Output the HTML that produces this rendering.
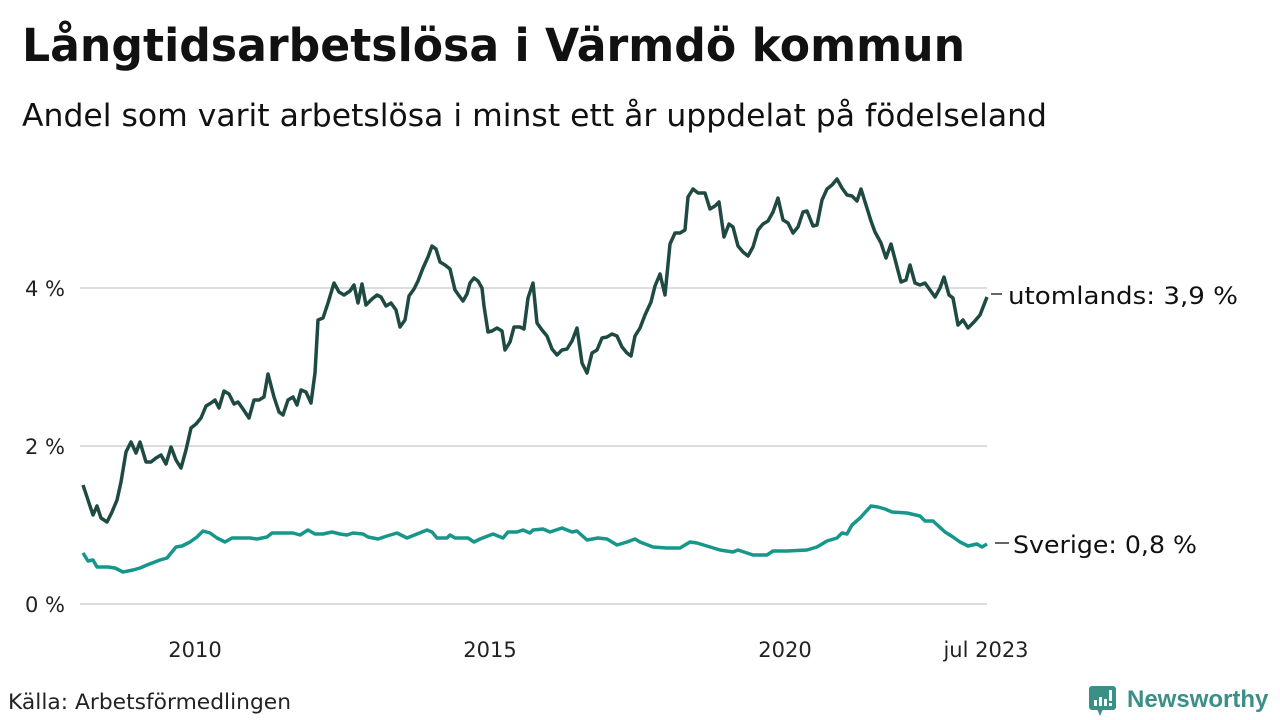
<!DOCTYPE html>
<html><head><meta charset="utf-8"><style>
body{margin:0;width:1280px;height:720px;background:#fff;overflow:hidden;font-family:"DejaVu Sans",sans-serif;color:#111}
</style></head><body>
<svg width="1280" height="720" xmlns="http://www.w3.org/2000/svg" style="position:absolute;left:0;top:0">
<text x="22" y="61" font-size="45" font-weight="bold" fill="#111" font-family="DejaVu Sans, sans-serif" textLength="943" lengthAdjust="spacingAndGlyphs">Långtidsarbetslösa i Värmdö kommun</text>
<text x="22" y="126" font-size="31" fill="#111" font-family="DejaVu Sans, sans-serif" textLength="1025" lengthAdjust="spacingAndGlyphs">Andel som varit arbetslösa i minst ett år uppdelat på födelseland</text>
<g stroke="#dddde0" stroke-width="2">
<line x1="80" y1="288" x2="987" y2="288"/><line x1="80" y1="446" x2="987" y2="446"/><line x1="80" y1="604" x2="987" y2="604"/>
</g>
<g font-size="21" fill="#222" font-family="DejaVu Sans, sans-serif">
<text x="65" y="296" text-anchor="end">4 %</text>
<text x="65" y="454" text-anchor="end">2 %</text>
<text x="65" y="612" text-anchor="end">0 %</text>
<text x="195" y="657" text-anchor="middle">2010</text>
<text x="490" y="657" text-anchor="middle">2015</text>
<text x="785" y="657" text-anchor="middle">2020</text>
<text x="986" y="657" text-anchor="middle">jul 2023</text>
<text x="8" y="709" textLength="283" lengthAdjust="spacingAndGlyphs">Källa: Arbetsförmedlingen</text>
</g>
<polyline fill="none" stroke="#1f4a44" stroke-width="3.5" stroke-linejoin="round" points="83,485 88,500 93,515 97,506 101,518 107,522 112,512 117,500 121,482 126,452 131,442 136,453 140,442 146,462 151,462 156,458 161,455 166,464 171,447 176,460 181,468 186,450 191,428 196,424 201,418 206,406 211,403 215,400 219,408 224,391 229,394 234,404 238,402 243,409 249,418 254,400 259,400 264,397 268,374 274,397 279,412 283,415 288,400 293,397 297,405 301,390 306,392 311,403 315,373 318,320 323,318 328,303 334,283 339,292 344,295 350,291 354,285 358,303 362,284 366,305 372,299 377,295 381,297 386,306 391,303 396,310 400,327 405,320 409,296 414,289 418,281 423,268 428,257 432,246 436,249 440,262 445,265 450,269 455,290 460,297 463,301 467,294 470,283 474,278 478,281 482,288 484,306 488,332 492,331 497,328 502,331 505,350 510,342 514,327 520,327 524,329 528,298 533,283 537,323 542,330 547,336 552,349 557,355 562,350 567,349 572,341 577,328 582,363 587,373 592,353 597,350 602,338 607,337 612,334 617,336 622,347 627,353 631,356 635,336 640,328 645,315 651,302 655,286 660,274 665,295 670,244 675,233 680,233 685,230 688,197 693,189 698,193 705,193 710,209 715,206 719,202 724,237 729,224 733,227 738,246 743,252 748,256 753,247 758,230 763,224 768,221 773,212 778,198 783,220 788,223 793,233 798,227 803,212 807,211 813,226 817,225 822,200 827,189 832,185 837,179 842,188 847,195 852,196 857,201 861,189 866,205 871,221 875,232 881,243 886,258 891,244 896,263 901,282 906,280 910,265 915,283 920,285 925,283 930,290 935,297 940,288 944,277 949,295 953,298 958,325 963,320 968,328 974,322 980,315 987,297"/>
<polyline fill="none" stroke="#17978a" stroke-width="3.5" stroke-linejoin="round" points="83,553 88,561 93,560 97,567 108,567 115,568 123,572 133,570 140,568 147,565 160,560 167,558 176,547 182,546 190,542 197,537 203,531 210,533 217,538 225,542 232,538 250,538 257,539 267,537 272,533 278,533 293,533 300,535 308,530 315,534 323,534 332,532 340,534 347,535 353,533 363,534 368,537 378,539 387,536 397,533 407,538 417,534 427,530 432,532 437,538 447,538 450,535 455,538 468,538 474,542 480,539 493,534 503,538 508,532 517,532 523,530 530,533 533,530 543,529 550,532 562,528 572,532 577,531 587,540 598,538 607,539 617,545 627,542 635,539 640,542 653,547 667,548 680,548 690,542 697,543 720,550 733,552 738,550 753,555 767,555 773,551 787,551 807,550 817,547 827,541 837,538 842,533 847,534 852,525 860,518 871,506 878,507 885,509 892,512 907,513 920,516 925,521 933,521 945,532 953,537 960,542 968,546 977,544 982,547 987,544"/>
<line x1="991" y1="294" x2="1002" y2="294" stroke="#333" stroke-width="1.5"/>
<line x1="995" y1="543" x2="1009" y2="543" stroke="#333" stroke-width="1.5"/>
<g font-size="24" fill="#111" font-family="DejaVu Sans, sans-serif">
<text x="1008" y="304" textLength="230" lengthAdjust="spacingAndGlyphs">utomlands: 3,9 %</text>
<text x="1013" y="553" textLength="184" lengthAdjust="spacingAndGlyphs">Sverige: 0,8 %</text>
</g>
<g>
<rect x="1089" y="686" width="27" height="24" rx="3" fill="#3a8f86"/>
<polygon points="1097,709 1103,709 1100,716" fill="#3a8f86"/>
<rect x="1094" y="700" width="3" height="6" fill="#fff"/>
<rect x="1099" y="697" width="3" height="9" fill="#fff"/>
<rect x="1104" y="699" width="3" height="7" fill="#fff"/>
<rect x="1109" y="690" width="3" height="11" fill="#fff"/>
<rect x="1109" y="703" width="3" height="3" fill="#fff"/>
<text x="1127" y="707" font-size="24" font-weight="bold" fill="#3a8f86" font-family="Liberation Sans, sans-serif">Newsworthy</text>
</g>
</svg>
</body></html>
